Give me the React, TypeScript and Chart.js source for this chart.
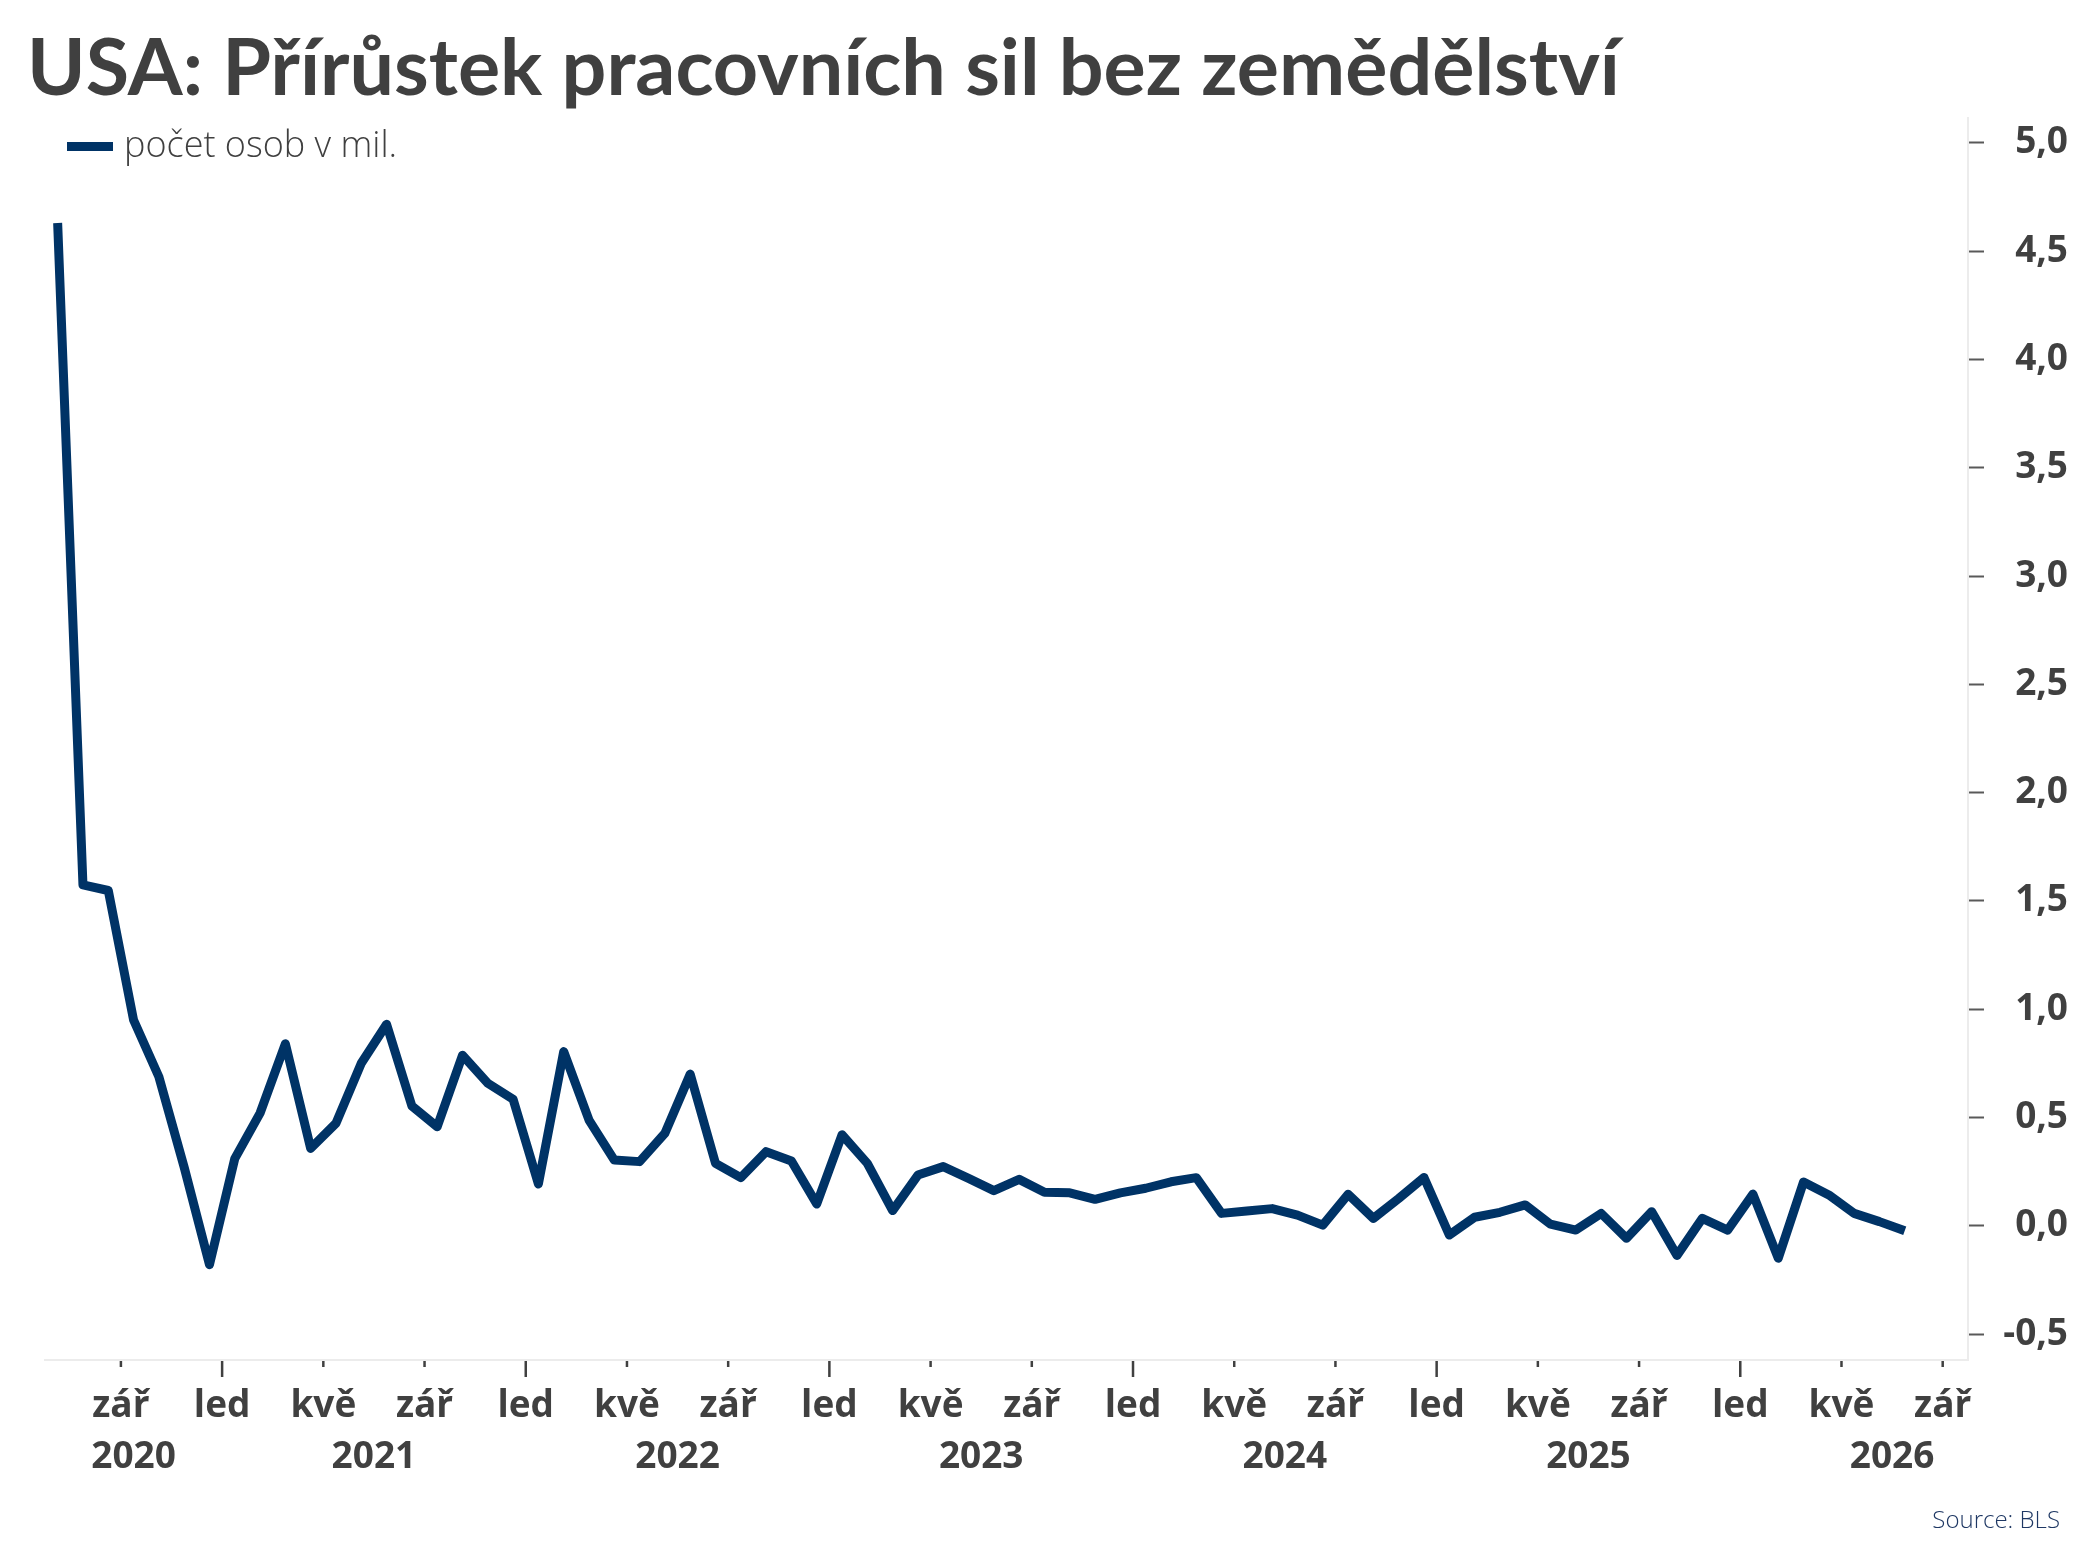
import React, { useEffect, useRef } from "react";
import { Chart, registerables } from "chart.js";

Chart.register(...registerables);

const TITLE = "USA: Přírůstek pracovních sil bez zemědělství";
const SERIES_LABEL = "počet osob v mil.";
const SOURCE = "Source: BLS";

// monthly change, first value is June 2020
const FIRST_MONTH = "2020-06";
const payrolls = [
  4.63, 1.574, 1.548, 0.95, 0.688, 0.27, -0.18, 0.31, 0.52, 0.84,
  0.357, 0.473, 0.75, 0.93, 0.553, 0.457, 0.787, 0.658, 0.584, 0.193,
  0.804, 0.488, 0.303, 0.296, 0.427, 0.7, 0.288, 0.222, 0.342, 0.299,
  0.1, 0.42, 0.288, 0.07, 0.234, 0.273, 0.219, 0.162, 0.214, 0.155,
  0.152, 0.122, 0.152, 0.173, 0.203, 0.222, 0.057, 0.068, 0.079, 0.049,
  0.003, 0.145, 0.034, 0.126, 0.223, -0.043, 0.039, 0.062, 0.096, 0.007,
  -0.02, 0.057, -0.058, 0.065, -0.137, 0.034, -0.02, 0.146, -0.15, 0.202,
  0.142, 0.057, 0.019, -0.023,
];

const X_MIN = "2020-06";
const X_MAX = "2026-10";
const xTickDates = [
  "2020-09", "2021-01", "2021-05", "2021-09", "2022-01", "2022-05", "2022-09",
  "2023-01", "2023-05", "2023-09", "2024-01", "2024-05", "2024-09", "2025-01",
  "2025-05", "2025-09", "2026-01", "2026-05", "2026-09",
];
const xTickLabels = [
  "zář", "led", "kvě", "zář", "led", "kvě", "zář",
  "led", "kvě", "zář", "led", "kvě", "zář", "led",
  "kvě", "zář", "led", "kvě", "zář",
];
const years = ["2020", "2021", "2022", "2023", "2024", "2025", "2026"];
const yTicks = [-0.5, 0, 0.5, 1, 1.5, 2, 2.5, 3, 3.5, 4, 4.5, 5];

const LINE_COLOR = "#003366";
const TEXT_COLOR = "#404040";
const FONT = "'Open Sans', 'Noto Sans', sans-serif";
const TITLE_FONT = "Lato, 'Open Sans', sans-serif";

const monthIndex = (ym: string) => {
  const [y, m] = ym.split("-").map(Number);
  return (y - 2020) * 12 + (m - 1);
};

const decorations = {
  id: "decorations",
  afterDraw(chart: Chart) {
    const { ctx, chartArea } = chart;
    const x = chart.scales.x;
    const bottom = chartArea.bottom;
    ctx.save();

    ctx.fillStyle = TEXT_COLOR;
    ctx.textBaseline = "alphabetic";
    ctx.textAlign = "left";
    ctx.font = `bold 79px ${TITLE_FONT}`;
    ctx.fillText(TITLE, 27, 95);

    // legend
    ctx.strokeStyle = LINE_COLOR;
    ctx.lineWidth = 9;
    ctx.beginPath();
    ctx.moveTo(67, 146.5);
    ctx.lineTo(113, 146.5);
    ctx.stroke();
    ctx.font = `300 36px ${FONT}`;
    ctx.fillText(SERIES_LABEL, 124, 157);

    // x axis ticks + month labels
    ctx.strokeStyle = TEXT_COLOR;
    ctx.lineWidth = 2.5;
    ctx.font = `bold 37px ${FONT}`;
    ctx.textAlign = "center";
    xTickDates.forEach((d, i) => {
      const px = x.getPixelForValue(monthIndex(d));
      const major = xTickLabels[i] === "led";
      ctx.beginPath();
      ctx.moveTo(px, bottom + 1);
      ctx.lineTo(px, bottom + (major ? 17 : 7));
      ctx.stroke();
      ctx.fillText(xTickLabels[i], px, bottom + 57);
    });

    // year labels, centred on the visible part of each year
    const xMin = monthIndex(X_MIN);
    years.forEach((yr) => {
      const start = monthIndex(`${yr}-01`);
      const mid = (Math.max(xMin, start) + start + 12) / 2;
      ctx.fillText(yr, x.getPixelForValue(mid), bottom + 108);
    });

    ctx.font = `300 24px ${FONT}`;
    ctx.fillStyle = "#1f3864";
    ctx.textAlign = "right";
    ctx.fillText(SOURCE, 2060, 1528);
    ctx.restore();
  },
};

export default function App() {
  const canvasRef = useRef<HTMLCanvasElement>(null);

  useEffect(() => {
    document.body.style.margin = "0";
    if (!canvasRef.current) return;
    const first = monthIndex(FIRST_MONTH);
    const chart = new Chart(canvasRef.current, {
      type: "line",
      data: {
        datasets: [
          {
            label: SERIES_LABEL,
            data: payrolls.map((v, i) => ({ x: first + i + 0.5, y: v })),
            borderColor: LINE_COLOR,
            borderWidth: 9,
            borderJoinStyle: "round",
            borderCapStyle: "butt",
            pointRadius: 0,
            tension: 0,
          },
        ],
      },
      options: {
        animation: false,
        responsive: true,
        maintainAspectRatio: false,
        layout: { padding: { left: 45, top: 118, right: 25, bottom: 0 } },
        plugins: {
          legend: { display: false },
          title: { display: false },
          tooltip: { enabled: false },
        },
        scales: {
          x: {
            type: "linear",
            min: monthIndex(X_MIN),
            max: monthIndex(X_MAX),
            grid: { display: false },
            ticks: { display: false },
            border: { display: true, color: "#ececec", width: 2 },
            afterFit: (scale: any) => {
              scale.height = 208;
            },
          },
          y: {
            position: "right",
            min: -0.62,
            max: 5.115,
            afterBuildTicks: (scale: any) => {
              scale.ticks = yTicks.map((v) => ({ value: v }));
            },
            afterFit: (scale: any) => {
              scale.width = 100;
            },
            grid: {
              drawOnChartArea: false,
              drawTicks: true,
              tickLength: 16,
              tickColor: "#595959",
              tickWidth: 2,
            },
            border: { display: true, color: "#ececec", width: 2 },
            ticks: {
              crossAlign: "far",
              padding: 19,
              color: TEXT_COLOR,
              font: { family: FONT, size: 37, weight: "bold" },
              callback: (v: any) => Number(v).toFixed(1).replace(".", ","),
            },
          },
        },
      },
      plugins: [decorations],
    });
    return () => chart.destroy();
  }, []);

  return (
    <div style={{ position: "relative", width: 2093, height: 1568, background: "#fff" }}>
      <canvas ref={canvasRef} />
    </div>
  );
}
